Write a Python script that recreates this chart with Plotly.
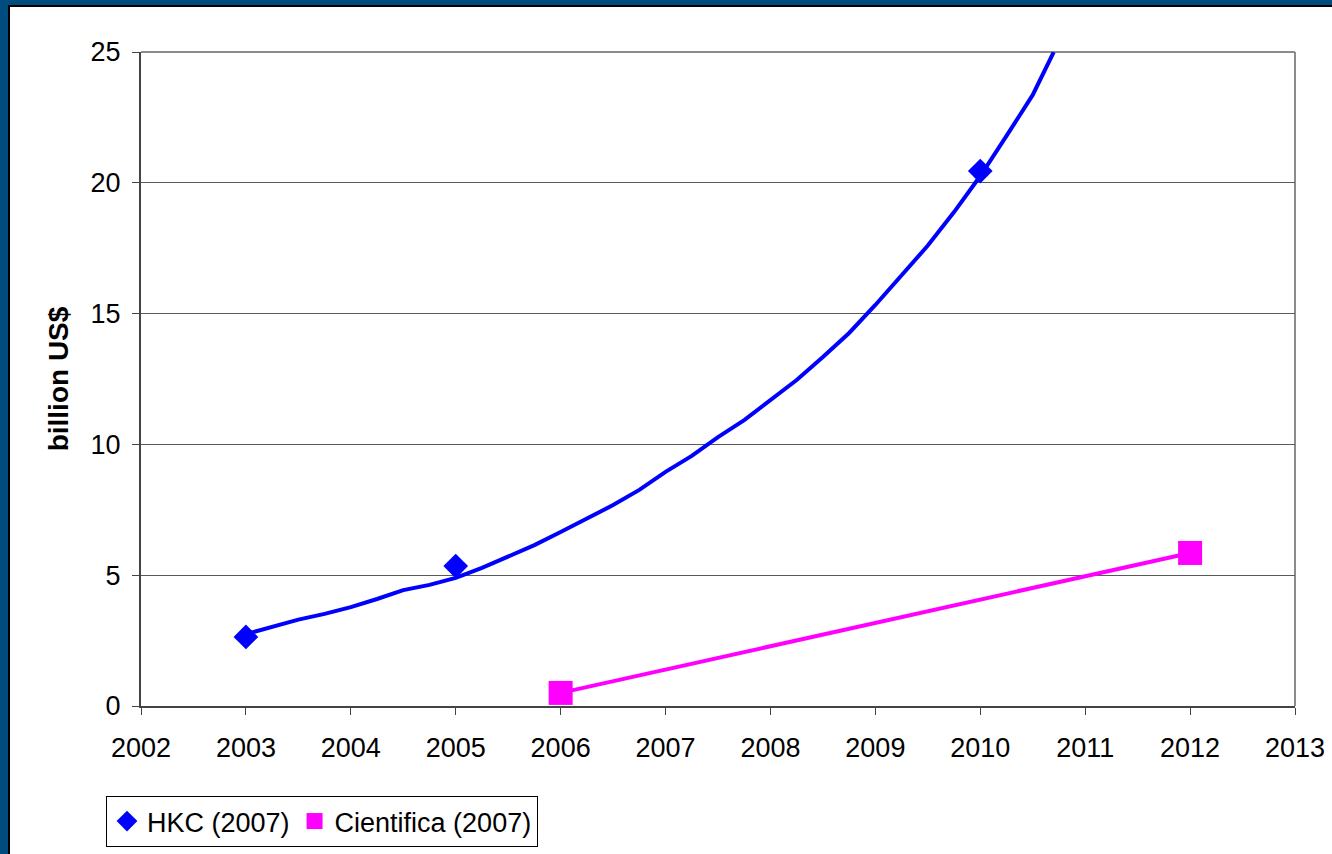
import plotly.graph_objects as go

# HKC (2007) data points
hkc_years = [2003, 2005, 2010]
hkc_values = [2.64, 5.35, 20.45]

# HKC trend curve
trend_years = [2003.0, 2003.25, 2003.5, 2003.75, 2004.0, 2004.25, 2004.5, 2004.75,
               2005.0, 2005.25, 2005.5, 2005.75, 2006.0, 2006.25, 2006.5, 2006.75,
               2007.0, 2007.25, 2007.5, 2007.75, 2008.0, 2008.25, 2008.5, 2008.75,
               2009.0, 2009.25, 2009.5, 2009.75, 2010.0, 2010.25, 2010.5, 2010.7]
trend_values = [2.75, 3.02, 3.3, 3.52, 3.78, 4.09, 4.43, 4.63,
                4.9, 5.28, 5.73, 6.15, 6.65, 7.15, 7.68, 8.26,
                8.95, 9.56, 10.28, 10.93, 11.7, 12.46, 13.34, 14.26,
                15.33, 16.44, 17.6, 18.88, 20.26, 21.79, 23.36, 25.0]

# Cientifica (2007)
cien_years = [2006, 2012]
cien_values = [0.5, 5.85]

x_ticks = list(range(2002, 2014))
y_ticks = [0, 5, 10, 15, 20, 25]

BLUE = "#0000FF"
MAGENTA = "#FF00FF"
FONT = "Liberation Sans, Arial, sans-serif"

fig = go.Figure()
fig.add_trace(go.Scatter(x=trend_years, y=trend_values, mode="lines",
                         line=dict(color=BLUE, width=4), showlegend=False,
                         hoverinfo="skip"))
fig.add_trace(go.Scatter(x=hkc_years, y=hkc_values, mode="markers",
                         marker=dict(symbol="diamond", size=19, color=BLUE),
                         name="HKC (2007)", cliponaxis=False))
fig.add_trace(go.Scatter(x=cien_years, y=cien_values, mode="lines",
                         line=dict(color=MAGENTA, width=4), showlegend=False,
                         hoverinfo="skip"))
fig.add_trace(go.Scatter(x=cien_years, y=cien_values, mode="markers",
                         marker=dict(symbol="square", size=24, color=MAGENTA),
                         name="Cientifica (2007)", cliponaxis=False))

W, H = 1332, 854
L, R, T, B = 141, 37, 52, 148
pw, ph = W - L - R, H - T - B

def px(p):
    return (p - L) / pw

def py(p):
    return (H - B - p) / ph

frame_blue = "#004C7E"
shapes = [
    dict(type="rect", xref="paper", yref="paper", x0=px(0), x1=px(W), y0=py(0), y1=py(5),
         fillcolor=frame_blue, line=dict(width=0), layer="above"),
    dict(type="rect", xref="paper", yref="paper", x0=px(8), x1=px(W), y0=py(5), y1=py(7),
         fillcolor="#000000", line=dict(width=0), layer="above"),
    dict(type="rect", xref="paper", yref="paper", x0=px(0), x1=px(8), y0=py(0), y1=py(H),
         fillcolor=frame_blue, line=dict(width=0), layer="above"),
    dict(type="rect", xref="paper", yref="paper", x0=px(8), x1=px(10), y0=py(5), y1=py(H),
         fillcolor="#000000", line=dict(width=0), layer="above"),
    dict(type="line", xref="paper", yref="paper", x0=0, x1=1, y0=1, y1=1,
         line=dict(color="#8c8c8c", width=2), layer="below"),
    dict(type="line", xref="paper", yref="paper", x0=1, x1=1, y0=0, y1=1,
         line=dict(color="#8c8c8c", width=2), layer="below"),
]

fig.update_layout(
    width=W, height=H,
    margin=dict(l=L, r=R, t=T, b=B, autoexpand=False),
    paper_bgcolor="white", plot_bgcolor="white",
    font=dict(family=FONT, size=27, color="black"),
    shapes=shapes,
    showlegend=True,
    legend=dict(orientation="h", x=px(106), y=py(796), xanchor="left", yanchor="top",
                bordercolor="black", borderwidth=1, bgcolor="white",
                font=dict(size=27, family=FONT), itemwidth=30,
                tracegroupgap=0, valign="middle"),
    xaxis=dict(range=[2002, 2013], tickvals=x_ticks, ticktext=[str(v) for v in x_ticks],
               showgrid=False, zeroline=False, showline=True, linecolor="#444444",
               linewidth=2, ticks="outside", ticklen=7, tickcolor="#444444",
               tickwidth=1, tickfont=dict(size=27), ticklabelstandoff=10,
               automargin=False),
    yaxis=dict(range=[0, 25], tickvals=y_ticks, showgrid=True, gridcolor="#5a5a5a",
               gridwidth=1, zeroline=False, showline=True, linecolor="#444444",
               linewidth=2, ticks="outside", ticklen=7, tickcolor="#444444",
               tickfont=dict(size=27), ticklabelstandoff=6, automargin=False,
               title=dict(text="<b>billion US$</b>", font=dict(size=28), standoff=14)),
)

fig.write_html("out.html")
